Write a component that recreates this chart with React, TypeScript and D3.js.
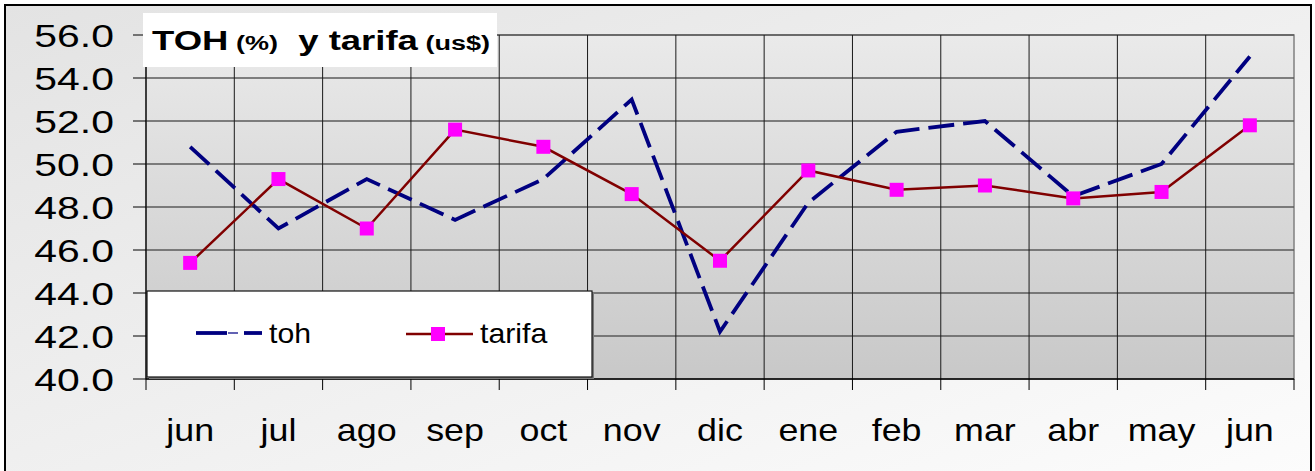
import React, { useEffect, useRef } from 'react';
import * as d3 from 'd3';

const months = ['jun', 'jul', 'ago', 'sep', 'oct', 'nov', 'dic', 'ene', 'feb', 'mar', 'abr', 'may', 'jun'];
const tohValues = [50.8, 47.0, 49.3, 47.4, 49.3, 53.0, 42.2, 48.2, 51.5, 52.0, 48.5, 50.0, 55.0];
const tarifaValues = [45.4, 49.3, 47.0, 51.6, 50.8, 48.6, 45.5, 49.7, 48.8, 49.0, 48.4, 48.7, 51.8];
const yTicks = [40, 42, 44, 46, 48, 50, 52, 54, 56];

const W = 1315;
const H = 471;
const FONT = '"Liberation Sans", Arial, sans-serif';

const App: React.FC = () => {
  const svgRef = useRef<SVGSVGElement | null>(null);

  useEffect(() => {
    if (!svgRef.current) return;
    const svg = d3.select(svgRef.current);
    svg.selectAll('*').remove();

    const left = 146, right = 1294, top = 35, bottom = 379;

    const x = d3.scaleBand<number>()
      .domain(months.map((_, i) => i))
      .range([left, right]);
    const y = d3.scaleLinear().domain([40, 56]).range([bottom, top]);
    const cx = (i: number) => (x(i) as number) + x.bandwidth() / 2;

    const defs = svg.append('defs');
    const outerGrad = defs.append('linearGradient')
      .attr('id', 'outerGrad')
      .attr('x1', '0').attr('y1', '0').attr('x2', '1').attr('y2', '1');
    outerGrad.append('stop').attr('offset', '0%').attr('stop-color', '#e3e3e3');
    outerGrad.append('stop').attr('offset', '100%').attr('stop-color', '#fcfcfc');

    const plotGrad = defs.append('linearGradient')
      .attr('id', 'plotGrad')
      .attr('x1', '0').attr('y1', '0').attr('x2', '0').attr('y2', '1');
    plotGrad.append('stop').attr('offset', '0%').attr('stop-color', '#eaeaea');
    plotGrad.append('stop').attr('offset', '100%').attr('stop-color', '#c8c8c8');

    // chart area
    svg.append('rect')
      .attr('x', 5).attr('y', 5)
      .attr('width', 1306).attr('height', 472)
      .attr('fill', 'url(#outerGrad)')
      .attr('stroke', '#000')
      .attr('stroke-width', 2);

    // plot area
    svg.append('rect')
      .attr('x', left).attr('y', top)
      .attr('width', right - left).attr('height', bottom - top)
      .attr('fill', 'url(#plotGrad)')
      .attr('stroke', '#808080')
      .attr('stroke-width', 1.5);

    // horizontal grid
    svg.append('g')
      .selectAll('line')
      .data(yTicks.slice(1))
      .enter().append('line')
      .attr('x1', left).attr('x2', right)
      .attr('y1', d => y(d)).attr('y2', d => y(d))
      .attr('stroke', '#5a5a5a')
      .attr('stroke-width', 1.6);

    // vertical grid at category boundaries
    const bounds = months.map((_, i) => x(i) as number).slice(1);
    svg.append('g')
      .selectAll('line')
      .data(bounds)
      .enter().append('line')
      .attr('x1', d => d).attr('x2', d => d)
      .attr('y1', top).attr('y2', bottom)
      .attr('stroke', '#1a1a1a')
      .attr('stroke-width', 1);

    // axes
    svg.append('line')
      .attr('x1', left).attr('x2', left).attr('y1', top).attr('y2', bottom)
      .attr('stroke', '#000').attr('stroke-width', 1.2);
    svg.append('line')
      .attr('x1', left).attr('x2', right).attr('y1', bottom).attr('y2', bottom)
      .attr('stroke', '#000').attr('stroke-width', 1.5);

    svg.append('g')
      .selectAll('line')
      .data(yTicks)
      .enter().append('line')
      .attr('x1', left - 13).attr('x2', left)
      .attr('y1', d => y(d)).attr('y2', d => y(d))
      .attr('stroke', '#000').attr('stroke-width', 1);

    svg.append('g')
      .selectAll('line')
      .data([left, ...bounds, right])
      .enter().append('line')
      .attr('x1', d => d).attr('x2', d => d)
      .attr('y1', bottom).attr('y2', bottom + 11)
      .attr('stroke', '#000').attr('stroke-width', 1);

    // y tick labels (stretched wide like the original)
    svg.append('g')
      .selectAll('text')
      .data(yTicks)
      .enter().append('text')
      .attr('transform', d => `translate(114,${y(d) + 11.5}) scale(1.32,1)`)
      .attr('text-anchor', 'end')
      .style('font-family', FONT)
      .style('font-size', '31px')
      .style('fill', '#000')
      .text(d => d.toFixed(1));

    // x tick labels
    svg.append('g')
      .selectAll('text')
      .data(months)
      .enter().append('text')
      .attr('transform', (_, i) => `translate(${cx(i)},441) scale(1.12,1)`)
      .attr('text-anchor', 'middle')
      .style('font-family', FONT)
      .style('font-size', '32px')
      .style('fill', '#000')
      .text(d => d);

    // series
    const lineGen = d3.line<number>()
      .x((_, i) => cx(i))
      .y(d => y(d));

    svg.append('path')
      .datum(tohValues)
      .attr('d', lineGen)
      .attr('fill', 'none')
      .attr('stroke', '#000080')
      .attr('stroke-width', 3.8)
      .attr('stroke-dasharray', '26 9');

    svg.append('path')
      .datum(tarifaValues)
      .attr('d', lineGen)
      .attr('fill', 'none')
      .attr('stroke', '#800000')
      .attr('stroke-width', 2.5);

    svg.append('g')
      .selectAll('rect')
      .data(tarifaValues)
      .enter().append('rect')
      .attr('x', (_, i) => cx(i) - 7)
      .attr('y', d => y(d) - 7)
      .attr('width', 14).attr('height', 14)
      .attr('fill', '#ff00ff');

    // legend
    const lg = svg.append('g');
    lg.append('rect')
      .attr('x', 149).attr('y', 293).attr('width', 445).attr('height', 86)
      .attr('fill', '#7a7a7a');
    lg.append('rect')
      .attr('x', 147).attr('y', 291).attr('width', 445).attr('height', 86)
      .attr('fill', '#fff')
      .attr('stroke', '#111')
      .attr('stroke-width', 1.2);

    lg.append('line')
      .attr('x1', 196).attr('x2', 227).attr('y1', 333).attr('y2', 333)
      .attr('stroke', '#000080').attr('stroke-width', 3.8);
    lg.append('line')
      .attr('x1', 228).attr('x2', 238).attr('y1', 333).attr('y2', 333)
      .attr('stroke', '#3a3aa0').attr('stroke-width', 1.6);
    lg.append('line')
      .attr('x1', 244).attr('x2', 262).attr('y1', 333).attr('y2', 333)
      .attr('stroke', '#000080').attr('stroke-width', 3.8);
    lg.append('text')
      .attr('transform', 'translate(269,343) scale(1.08,1)')
      .style('font-family', FONT).style('font-size', '28px')
      .text('toh');

    lg.append('line')
      .attr('x1', 406).attr('x2', 473).attr('y1', 334).attr('y2', 334)
      .attr('stroke', '#800000').attr('stroke-width', 2.5);
    lg.append('rect')
      .attr('x', 431).attr('y', 327).attr('width', 14).attr('height', 14)
      .attr('fill', '#ff00ff');
    lg.append('text')
      .attr('transform', 'translate(480,343) scale(1.08,1)')
      .style('font-family', FONT).style('font-size', '28px')
      .text('tarifa');

    // title
    svg.append('rect')
      .attr('x', 143).attr('y', 13).attr('width', 354).attr('height', 54)
      .attr('fill', '#fff');
    const title = svg.append('text')
      .attr('x', 152).attr('y', 50)
      .attr('textLength', 338)
      .attr('lengthAdjust', 'spacingAndGlyphs')
      .style('font-family', FONT)
      .style('font-weight', 'bold')
      .style('fill', '#000');
    title.append('tspan').style('font-size', '27px').text('TOH');
    title.append('tspan').style('font-size', '20px').text(' (%)');
    title.append('tspan').style('font-size', '27px').text('\u00a0 y tarifa');
    title.append('tspan').style('font-size', '20px').text(' (us$)');
  }, []);

  return (
    <div style={{ position: 'fixed', left: 0, top: 0, width: W, height: H, overflow: 'hidden' }}>
      <svg ref={svgRef} width={W} height={H} style={{ display: 'block' }}></svg>
    </div>
  );
};

export default App;
